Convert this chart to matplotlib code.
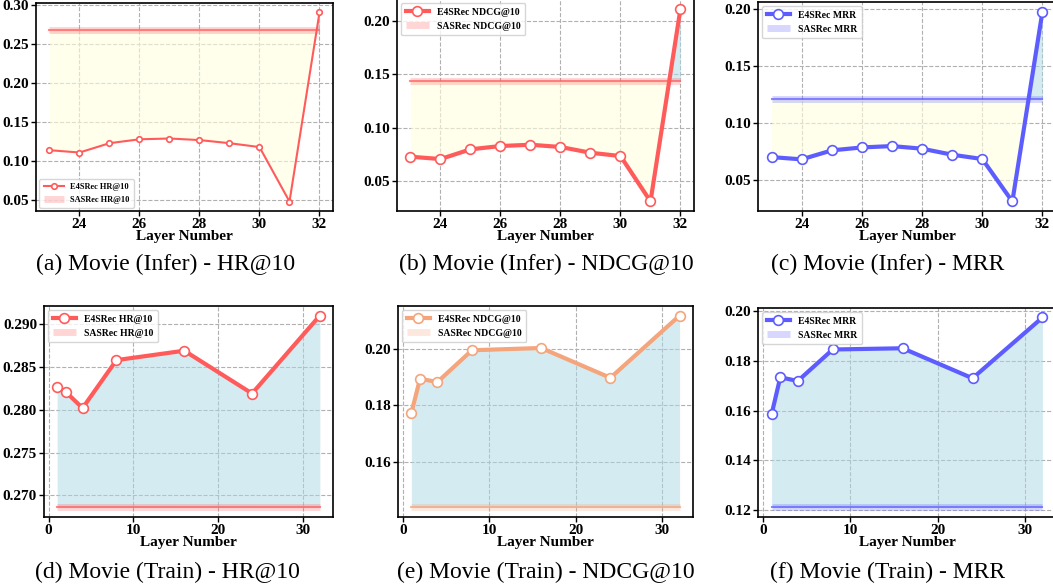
import numpy as np
import matplotlib
matplotlib.use('Agg')
import matplotlib.pyplot as plt
from matplotlib.ticker import MultipleLocator

plt.rcParams['font.family'] = 'Liberation Serif'

# infer setting: layers 23..32
infer_layers = [23, 24, 25, 26, 27, 28, 29, 30, 31, 32]
infer_hr = [0.114, 0.111, 0.123, 0.128, 0.129, 0.127, 0.123, 0.118, 0.048, 0.291]
infer_ndcg = [0.0728, 0.0706, 0.0797, 0.0828, 0.0840, 0.0819, 0.0765, 0.0734, 0.0310, 0.2114]
infer_mrr = [0.0698, 0.0678, 0.0757, 0.0783, 0.0795, 0.0772, 0.0719, 0.0681, 0.0307, 0.1980]

# train setting
train_layers = [1, 2, 4, 8, 16, 24, 32]
train_hr = [0.2827, 0.2821, 0.2802, 0.2858, 0.2869, 0.2819, 0.2910]
train_ndcg = [0.1774, 0.1894, 0.1882, 0.1994, 0.2002, 0.1897, 0.2116]
train_mrr = [0.1584, 0.1734, 0.1719, 0.1846, 0.1851, 0.1730, 0.1975]

# SASRec baselines
sas_hr = 0.2686
sas_ndcg = 0.1441
sas_mrr = 0.1209

red = '#FF5B5B'
orange = '#F4A57C'
blue = '#5D5DFF'

W, H = 1053, 587
fig = plt.figure(figsize=(W / 100, H / 100), dpi=100)


def rect(l, t, r, b):
    return [l / W, 1 - b / H, (r - l) / W, (b - t) / H]


panels = [
    (rect(36, 3, 333, 211), infer_layers, infer_hr, sas_hr, red, 'HR@10', 'lower left', 2, 'small', 166, 264, '(a) Movie (Infer) - HR@10'),
    (rect(397, -1, 694, 211), infer_layers, infer_ndcg, sas_ndcg, red, 'NDCG@10', 'upper left', 2, 'big', 546, 264, '(b) Movie (Infer) - NDCG@10'),
    (rect(758, 2, 1056, 211), infer_layers, infer_mrr, sas_mrr, blue, 'MRR', 'upper left', 2, 'big', 888, 264, '(c) Movie (Infer) - MRR'),
    (rect(44, 306, 333, 517), train_layers, train_hr, sas_hr, red, 'HR@10', 'upper left', 10, 'big', 167, 572, '(d) Movie (Train) - HR@10'),
    (rect(398, 306, 693, 517), train_layers, train_ndcg, sas_ndcg, orange, 'NDCG@10', 'upper left', 10, 'big', 546, 572, '(e) Movie (Train) - NDCG@10'),
    (rect(758, 308, 1056, 517), train_layers, train_mrr, sas_mrr, blue, 'MRR', 'upper left', 10, 'big', 888, 572, '(f) Movie (Train) - MRR'),
]

ystep = [0.05, 0.05, 0.05, 0.005, 0.02, 0.02]

for i, (pos, x, y, base, col, metric, loc, xstep, size, cx, cy, cap) in enumerate(panels):
    ax = fig.add_axes(pos)
    x = np.array(x)
    y = np.array(y)
    b = np.full(len(x), base)

    ax.fill_between(x, y, b, where=y >= b, interpolate=True, color='lightblue', alpha=0.5, lw=0)
    ax.fill_between(x, y, b, where=y <= b, interpolate=True, color='lightyellow', alpha=0.6, lw=0)

    if size == 'small':
        lw, ms, fs = 1.5, 4, 6
    else:
        lw, ms, fs = 3, 7, 7

    ax.plot(x, b, color=col, lw=5, alpha=0.25, solid_capstyle='butt', label='SASRec ' + metric)
    ax.plot(x, b, color=col, lw=1.5, alpha=0.7)
    ax.plot(x, y, color=col, lw=lw, marker='o', markersize=ms, markerfacecolor='white',
            markeredgecolor=col, markeredgewidth=1.2, label='E4SRec ' + metric, zorder=5)

    ax.xaxis.set_major_locator(MultipleLocator(xstep))
    ax.yaxis.set_major_locator(MultipleLocator(ystep[i]))
    ax.grid(True, linestyle='--', color='#b0b0b0', lw=0.8)
    ax.set_axisbelow(True)
    for s in ax.spines.values():
        s.set_linewidth(1.2)
    ax.tick_params(labelsize=11, width=1, length=3.5, pad=1.5)
    for lab in ax.get_xticklabels() + ax.get_yticklabels():
        lab.set_fontweight('bold')
    ax.set_xlabel('Layer Number', fontsize=11, fontweight='bold', labelpad=-1)

    h, l = ax.get_legend_handles_labels()
    ax.legend(h[::-1], l[::-1], loc=loc, prop={'weight': 'bold', 'size': fs},
              framealpha=0.8, edgecolor='#cccccc', borderaxespad=0.4,
              handlelength=2.4, borderpad=0.5)

    fig.text(cx / W, 1 - cy / H, cap, fontsize=17, ha='center', va='center')

fig.savefig('out.png', dpi=100)
